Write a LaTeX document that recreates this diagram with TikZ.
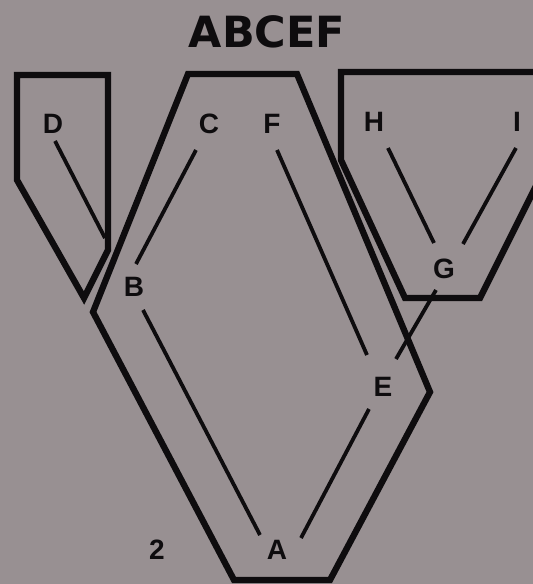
\documentclass[tikz,border=0pt]{standalone}
\usepackage{fontspec}
\setmainfont{Liberation Sans}
\newfontfamily\titlefont{DejaVu Sans}
\definecolor{paper}{RGB}{152,144,146}
\definecolor{ink}{RGB}{14,12,14}
\begin{document}
\begin{tikzpicture}[x=1pt,y=-1pt,
  outline/.style={draw=ink,line width=6.3pt,line join=miter},
  inner/.style={draw=ink,line width=3.8pt},
  lbl/.style={font=\fontsize{28}{28}\selectfont\bfseries,text=ink,inner sep=0pt}]
\path[use as bounding box] (0,0) rectangle (533,584);
\clip (0,0) rectangle (533,584);
\fill[paper] (0,0) rectangle (533,584);

% title
\node[font=\titlefont\fontsize{43}{43}\selectfont\bfseries,text=ink,inner sep=0pt] (title) at (267,32) {ABCEF};

% outlines
\draw[outline] (17,75) -- (108,75) -- (108,250) -- (84,298) -- (17,180) -- cycle;
\draw[outline] (188,74) -- (297,74) -- (430,392) -- (330,580) -- (234,580) -- (93,312) -- cycle;
\draw[outline] (341,72) -- (565,72) -- (565,128) -- (480,298) -- (405,298) -- (341,160) -- cycle;

% labels
\node[lbl] (D) at (53,124) {D};
\node[lbl] (C) at (209,124) {C};
\node[lbl] (F) at (272,124) {F};
\node[lbl] (H) at (374,122) {H};
\node[lbl] (I) at (517,122) {I};
\node[lbl] (B) at (134,287) {B};
\node[lbl] (G) at (444,269) {G};
\node[lbl] (E) at (383,387) {E};
\node[lbl] (A) at (277,550) {A};
\node[lbl] (two) at (157,550) {2};

% connector ends
\coordinate (db1) at (55,141);  \coordinate (db2) at (105,238);
\coordinate (cb1) at (196,150); \coordinate (cb2) at (136,264);
\coordinate (fe1) at (277,150); \coordinate (fe2) at (367,355);
\coordinate (ba1) at (143,310); \coordinate (ba2) at (260,535);
\coordinate (ea1) at (369,409); \coordinate (ea2) at (301,538);
\coordinate (hg1) at (388,148); \coordinate (hg2) at (434,243);
\coordinate (ig1) at (516,148); \coordinate (ig2) at (463,244);
\coordinate (ge1) at (436,290); \coordinate (ge2) at (396,359);

\draw[inner] (db1) -- (db2);
\draw[inner] (cb1) -- (cb2);
\draw[inner] (fe1) -- (fe2);
\draw[inner] (ba1) -- (ba2);
\draw[inner] (ea1) -- (ea2);
\draw[inner] (hg1) -- (hg2);
\draw[inner] (ig1) -- (ig2);
\draw[inner] (ge1) -- (ge2);
\end{tikzpicture}
\end{document}
